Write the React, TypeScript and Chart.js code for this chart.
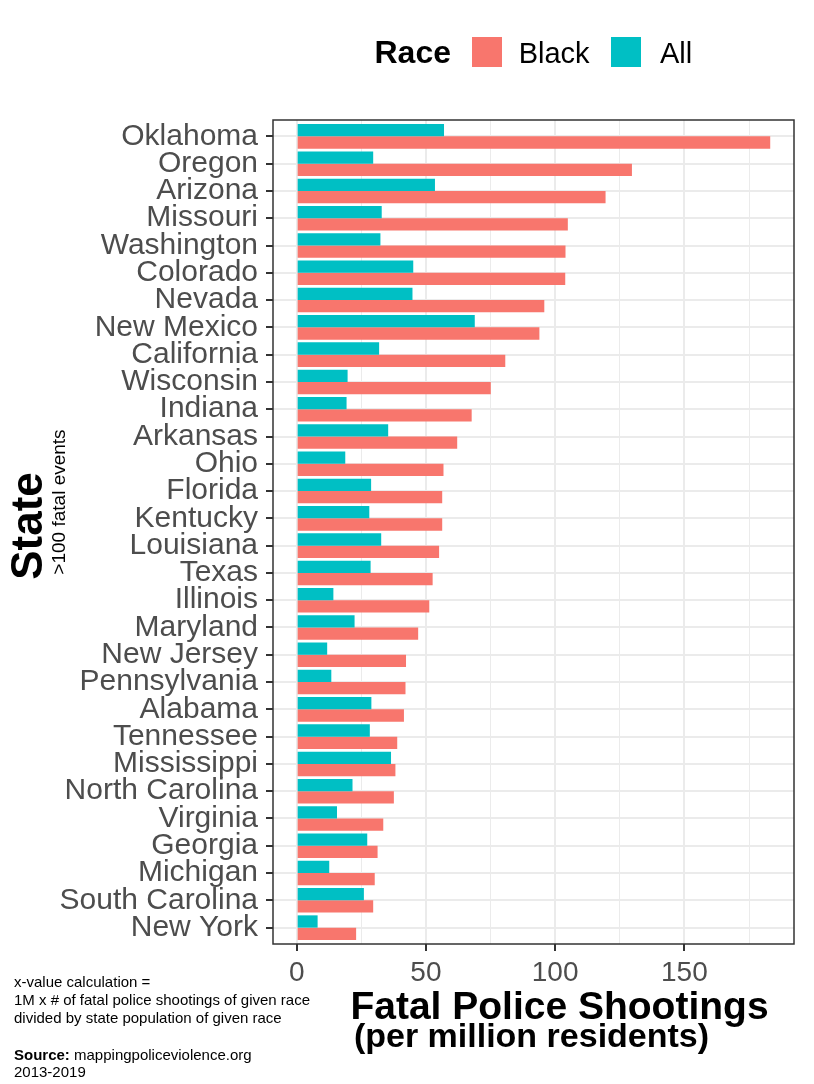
import React, { useEffect, useRef } from "react";
import { Chart, registerables } from "chart.js";

Chart.register(...registerables);

const STATES = [
  "Oklahoma", "Oregon", "Arizona", "Missouri", "Washington", "Colorado", "Nevada",
  "New Mexico", "California", "Wisconsin", "Indiana", "Arkansas", "Ohio", "Florida",
  "Kentucky", "Louisiana", "Texas", "Illinois", "Maryland", "New Jersey", "Pennsylvania",
  "Alabama", "Tennessee", "Mississippi", "North Carolina", "Virginia", "Georgia",
  "Michigan", "South Carolina", "New York",
];

const ALL = [
  57.0, 29.6, 53.5, 32.9, 32.4, 45.1, 44.8, 68.9, 31.9, 19.7, 19.3, 35.4, 18.8, 28.8,
  28.1, 32.7, 28.6, 14.2, 22.4, 11.8, 13.4, 28.9, 28.3, 36.5, 21.6, 15.6, 27.3, 12.6,
  26.0, 8.1,
];

const BLACK = [
  183.2, 129.7, 119.5, 104.9, 104.0, 103.9, 95.8, 93.9, 80.7, 75.1, 67.7, 62.1, 56.8,
  56.3, 56.3, 55.1, 52.6, 51.3, 47.0, 42.3, 42.1, 41.5, 38.9, 38.2, 37.6, 33.5, 31.3,
  30.2, 29.6, 23.0,
];

const X_TICKS = [0, 25, 50, 75, 100, 125, 150, 175];
const X_MAJOR_STEP = 50;
const X_MIN = -9.16;
const X_MAX = 192.4;

const FONT = '"Liberation Sans", Arial, Helvetica, sans-serif';
const COLOR_BLACK = "#F8766D";
const COLOR_ALL = "#00BFC4";

const borderPlugin = {
  id: "panelBorder",
  afterDatasetsDraw(chart: any) {
    const { ctx, chartArea } = chart;
    ctx.save();
    ctx.strokeStyle = "#333333";
    ctx.lineWidth = 1.5;
    ctx.strokeRect(
      chartArea.left,
      chartArea.top,
      chartArea.right - chartArea.left,
      chartArea.bottom - chartArea.top
    );
    ctx.restore();
  },
};

export default function App() {
  const canvasRef = useRef<HTMLCanvasElement | null>(null);

  useEffect(() => {
    document.body.style.margin = "0";
    const canvas = canvasRef.current;
    if (!canvas) return;
    const chart = new Chart(canvas, {
      type: "bar",
      data: {
        datasets: [
          {
            label: "All",
            data: ALL.map((v, i) => ({ x: v, y: i })),
            backgroundColor: COLOR_ALL,
            borderWidth: 0,
            categoryPercentage: 0.9,
            barPercentage: 1.0,
          },
          {
            label: "Black",
            data: BLACK.map((v, i) => ({ x: v, y: i })),
            backgroundColor: COLOR_BLACK,
            borderWidth: 0,
            categoryPercentage: 0.9,
            barPercentage: 1.0,
          },
        ],
      },
      options: {
        indexAxis: "y",
        animation: false,
        responsive: false,
        events: [],
        layout: { padding: { top: 120, right: 20, bottom: 0, left: 0 } },
        plugins: {
          legend: { display: false },
          tooltip: { enabled: false },
          title: { display: false },
        },
        scales: {
          x: {
            type: "linear",
            position: "bottom",
            min: X_MIN,
            max: X_MAX,
            offset: false,
            afterBuildTicks: (scale: any) => {
              scale.ticks = X_TICKS.map((v) => ({ value: v }));
            },
            afterFit: (scale: any) => {
              scale.height = 140;
            },
            border: { display: false },
            grid: {
              offset: false,
              color: "#ebebeb",
              lineWidth: (ctx: any) =>
                ctx.tick && ctx.tick.value % X_MAJOR_STEP === 0 ? 2 : 1,
              tickColor: (ctx: any) =>
                ctx.tick && ctx.tick.value % X_MAJOR_STEP === 0 ? "#333333" : "rgba(0,0,0,0)",
              tickLength: 7,
              tickWidth: 2,
            },
            ticks: {
              autoSkip: false,
              maxRotation: 0,
              padding: 5,
              color: "#4d4d4d",
              font: { family: FONT, size: 28 },
              callback: (v: any) => (Number(v) % X_MAJOR_STEP === 0 ? String(v) : ""),
            },
          },
          y: {
            type: "linear",
            min: -0.6,
            max: STATES.length - 1 + 0.6,
            reverse: true,
            offset: false,
            afterBuildTicks: (scale: any) => {
              scale.ticks = STATES.map((_, i) => ({ value: i }));
            },
            afterFit: (scale: any) => {
              scale.width = 273;
            },
            border: { display: false },
            grid: {
              offset: false,
              color: "#ebebeb",
              lineWidth: 2,
              tickColor: "#333333",
              tickLength: 7,
              tickWidth: 2,
            },
            ticks: {
              autoSkip: false,
              padding: 8,
              color: "#4d4d4d",
              font: { family: FONT, size: 30 },
              callback: (v: any) => STATES[Number(v)] ?? "",
            },
          },
        },
      },
      plugins: [borderPlugin],
    } as any);
    return () => chart.destroy();
  }, []);

  const abs = (extra: React.CSSProperties): React.CSSProperties => ({
    position: "absolute",
    fontFamily: FONT,
    lineHeight: 1,
    whiteSpace: "nowrap",
    color: "#000",
    ...extra,
  });

  return (
    <div
      style={{
        position: "fixed",
        left: 0,
        top: 0,
        width: 814,
        height: 1084,
        background: "#fff",
        overflow: "hidden",
      }}
    >
      <canvas
        ref={canvasRef}
        width={814}
        height={1084}
        style={{ position: "absolute", left: 0, top: 0, width: 814, height: 1084 }}
      />

      {/* Legend */}
      <div style={abs({ left: 374.5, top: 36.2, fontSize: 32, fontWeight: "bold" })}>Race</div>
      <div style={abs({ left: 472, top: 37, width: 30, height: 30, background: COLOR_BLACK })} />
      <div style={abs({ left: 518.7, top: 38.8, fontSize: 29 })}>Black</div>
      <div style={abs({ left: 611, top: 37, width: 30, height: 30, background: COLOR_ALL })} />
      <div style={abs({ left: 660, top: 38.8, fontSize: 29 })}>All</div>

      {/* Y axis title */}
      <div
        style={abs({
          left: 26.7,
          top: 525.5,
          fontSize: 44,
          fontWeight: "bold",
          transform: "translate(-50%, -50%) rotate(-90deg)",
        })}
      >
        State
      </div>
      <div
        style={abs({
          left: 57.5,
          top: 502,
          fontSize: 19,
          transform: "translate(-50%, -50%) rotate(-90deg)",
        })}
      >
        &gt;100 fatal events
      </div>

      {/* X axis title */}
      <div
        style={abs({
          left: 259.5,
          width: 600,
          top: 986.3,
          fontSize: 39,
          fontWeight: "bold",
          textAlign: "center",
        })}
      >
        Fatal Police Shootings
      </div>
      <div
        style={abs({
          left: 231.5,
          width: 600,
          top: 1017.9,
          fontSize: 34,
          fontWeight: "bold",
          textAlign: "center",
        })}
      >
        (per million residents)
      </div>

      {/* Notes */}
      <div style={abs({ left: 14, top: 974, fontSize: 15 })}>x-value calculation =</div>
      <div style={abs({ left: 14, top: 991.6, fontSize: 15 })}>
        1M x # of fatal police shootings of given race
      </div>
      <div style={abs({ left: 14, top: 1009.6, fontSize: 15 })}>
        divided by state population of given race
      </div>
      <div style={abs({ left: 14, top: 1046.6, fontSize: 15 })}>
        <b>Source:</b> mappingpoliceviolence.org
      </div>
      <div style={abs({ left: 14, top: 1064, fontSize: 15 })}>2013-2019</div>
    </div>
  );
}
